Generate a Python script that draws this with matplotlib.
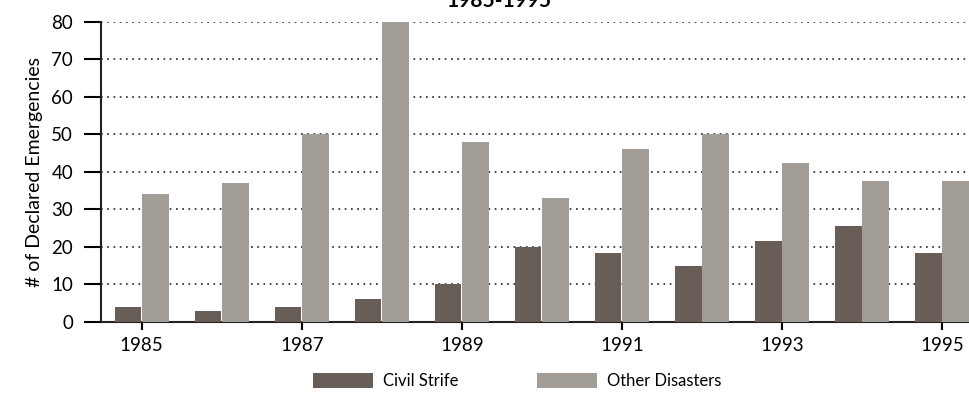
import numpy as np
import matplotlib
matplotlib.use("Agg")
import matplotlib.pyplot as plt
from matplotlib.patches import Patch

plt.rcParams['font.family'] = ['Lato', 'DejaVu Sans']

# Declared emergencies per year
years = np.arange(1985, 1996)
civil_strife = [4, 3, 4, 6, 10, 20, 18.5, 15, 21.5, 25.5, 18.5]
other_disasters = [34, 37, 50, 80, 48, 33, 46, 50, 42.5, 37.5, 37.5]
tick_years = [1985, 1987, 1989, 1991, 1993, 1995]
series_names = ["Civil Strife", "Other Disasters"]

civil_color = "#695d58"
other_color = "#a39d97"

fig = plt.figure(figsize=(9.7, 3.97), dpi=100)
ax = fig.add_axes([0.104, 0.189, 0.896, 0.756])

w = 0.33
ax.bar(years - w / 2 - 0.005, civil_strife, width=w, color=civil_color, zorder=3)
ax.bar(years + w / 2 + 0.005, other_disasters, width=w, color=other_color, zorder=3)

ax.set_xlim(1984.49, 1995.35)
ax.set_ylim(0, 80)

# dotted grid lines behind the bars
for yv in range(10, 81, 10):
    ax.axhline(yv, color="#222222", lw=1.2, ls=(0, (1, 2.75)), zorder=1)

ax.set_yticks(range(0, 81, 10))
ax.set_xticks(tick_years)
ax.set_xticklabels([str(y) for y in tick_years])
ax.tick_params(axis="y", direction="out", length=12, width=1.5, labelsize=13.5, pad=8)
ax.tick_params(axis="x", direction="out", length=6, width=1.5, labelsize=13.5, pad=5)

for s in ["top", "right"]:
    ax.spines[s].set_visible(False)
for s in ["left", "bottom"]:
    ax.spines[s].set_linewidth(1.5)
    ax.spines[s].set_color("#222222")

ax.set_ylabel("# of Declared Emergencies", fontsize=14, labelpad=6)

fig.text(0.514, 0.983, "1985-1995", ha="center", va="baseline",
         fontsize=15, fontweight="bold")

handles = [Patch(facecolor=civil_color, edgecolor="none"),
           Patch(facecolor=other_color, edgecolor="none")]
fig.legend(handles, series_names, loc="center", bbox_to_anchor=(0.5335, 0.041),
           ncol=2, frameon=False, fontsize=12, handlelength=3.6,
           handleheight=1.0, handletextpad=0.6, columnspacing=4.7,
           borderpad=0)

fig.savefig("out.png", dpi=100)
